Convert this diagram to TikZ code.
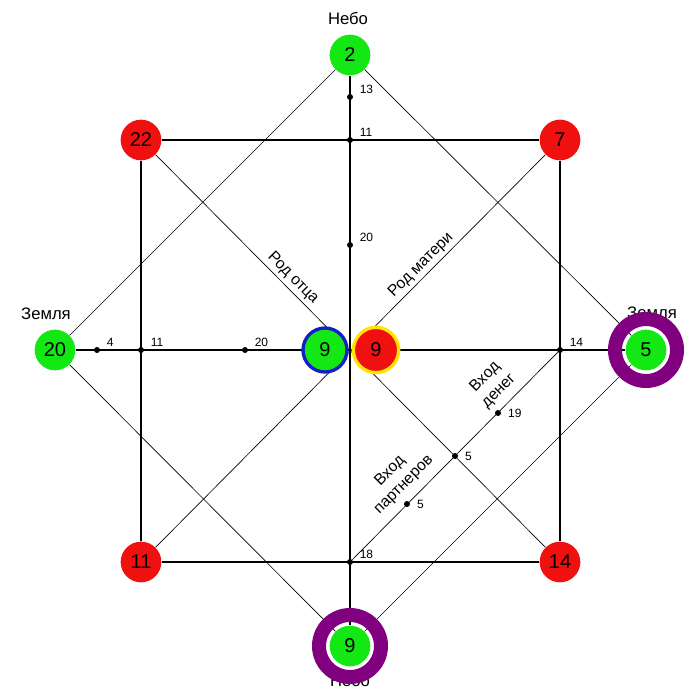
\documentclass[tikz,border=0pt]{standalone}
\usepackage{fontspec}
\setmainfont{Liberation Sans}
\usetikzlibrary{backgrounds}
\definecolor{ballgreen}{RGB}{20,232,20}
\definecolor{ballred}{RGB}{240,16,16}
\definecolor{ringpurple}{RGB}{128,0,128}
\definecolor{rimblue}{RGB}{20,30,200}
\definecolor{rimyellow}{RGB}{255,230,0}

\begin{document}
\begin{tikzpicture}[x=0.75pt,y=-0.75pt,
  greenball/.style={circle,fill=ballgreen,minimum size=30.5pt,inner sep=0pt,font=\fontsize{15}{17}\selectfont},
  redball/.style={circle,fill=ballred,minimum size=30.5pt,inner sep=0pt,font=\fontsize{15}{17}\selectfont},
  ringball/.style={circle,draw=ringpurple,line width=10.5pt,minimum size=46.5pt,inner sep=0pt},
  dot/.style={circle,fill=black,minimum size=4.5pt,inner sep=0pt,label distance=6pt},
  tag/.style={font=\fontsize{9}{10}\selectfont,inner sep=1pt,xshift=4pt},
  title/.style={font=\fontsize{12.5}{14}\selectfont,inner sep=0pt},
  caption/.style={font=\fontsize{11.8}{14.5}\selectfont,inner sep=1pt,align=center},
  mainline/.style={line width=0.8pt},
  thinline/.style={line width=0.5pt}]
\useasboundingbox (0,0) rectangle (700,700);

\node[title] (skyname) at (348,18) {Небо};
\node[title] (westname) at (46,314) {Земля};
\node[title] (eastname) at (652,313) {Земля};
\node[title] (groundname) at (350,680) {Небо};

\node[ringball] (eastring) at (646,350) {};
\node[ringball] (groundring) at (350,646) {};

\node[greenball] (sky) at (350,55) {2};
\node[greenball] (west) at (55,350) {20};
\node[greenball] (east) at (eastring) {5};
\node[greenball] (ground) at (groundring) {9};
\node[redball] (c22) at (141,140) {22};
\node[redball] (c7) at (560,140) {7};
\node[redball] (c11) at (141,562) {11};
\node[redball] (c14) at (560,562) {14};
\node[greenball,draw=rimblue,line width=2.5pt,minimum size=33pt] (father) at (325,350) {9};
\node[redball,draw=rimyellow,line width=2.5pt,minimum size=34pt] (mother) at (376,350) {9};

\node[dot,label={[tag]30:13}] (d13) at (350,97) {};
\node[dot,label={[tag]30:11}] (d11a) at (350,140) {};
\node[dot,label={[tag]30:20}] (d20a) at (350,245) {};
\node[dot,label={[tag]30:4}] (d4) at (97,350) {};
\node[dot,label={[tag]30:11}] (d11b) at (141,350) {};
\node[dot,label={[tag]30:20}] (d20b) at (245,350) {};
\node[dot,label={[tag]30:14}] (d14) at (560,350) {};
\node[dot,label={[tag]0:19}] (d19) at (498,413) {};
\node[dot,label={[tag]0:5}] (d5a) at (455,456) {};
\node[dot,label={[tag]0:5}] (d5b) at (407,504) {};
\node[dot,label={[tag]30:18}] (d18) at (350,562) {};

\node[caption,rotate=-45] (fatherline) at (293,278) {Род отца};
\node[caption,rotate=45] (motherline) at (421,265) {Род матери};
\node[caption,rotate=45] (money) at (492,384) {Вход\\денег};
\node[caption,rotate=45] (partners) at (397,478) {Вход\\партнеров};

\begin{scope}[on background layer]
\fill[white] (0,0) rectangle (700,700);
\draw[mainline] (sky) -- (ground);
\draw[mainline] (west) -- (east);
\draw[mainline] (c22) -- (c7);
\draw[mainline] (c7) -- (c14);
\draw[mainline] (c14) -- (c11);
\draw[mainline] (c11) -- (c22);
\draw[thinline] (sky) -- (west);
\draw[thinline] (west) -- (ground);
\draw[thinline] (ground) -- (east);
\draw[thinline] (east) -- (sky);
\draw[thinline] (c22) -- (c14);
\draw[thinline] (c7) -- (c11);
\draw[thinline] (d18) -- (d14);
\end{scope}
\end{tikzpicture}
\end{document}
